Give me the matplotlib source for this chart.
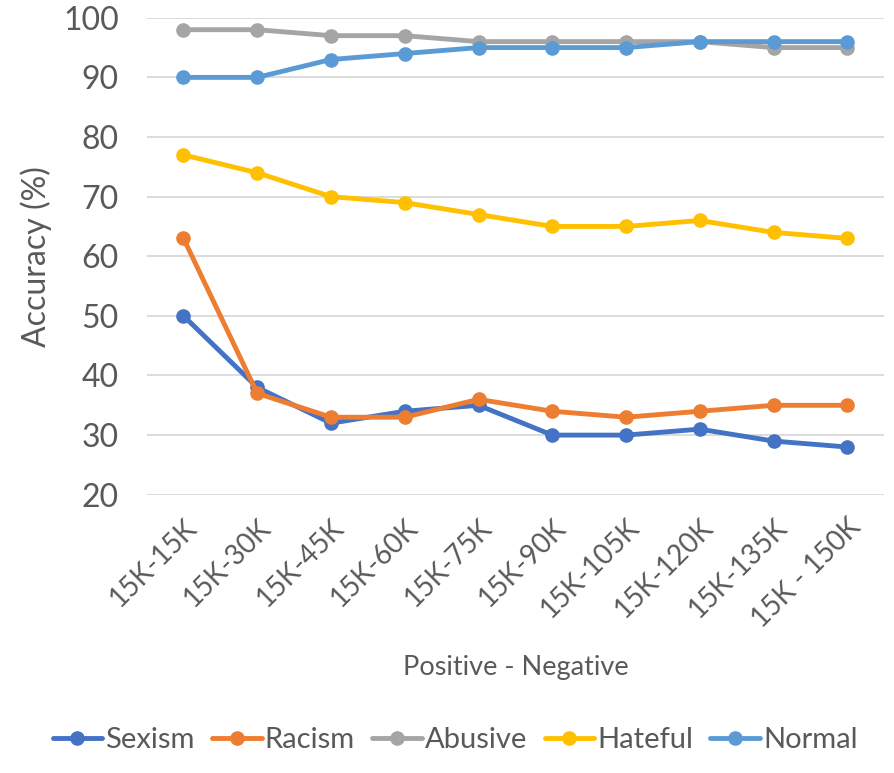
import matplotlib.pyplot as plt

plt.rcParams["font.family"] = ["Lato", "DejaVu Sans"]

# data
categories = ["15K-15K", "15K-30K", "15K-45K", "15K-60K", "15K-75K",
              "15K-90K", "15K-105K", "15K-120K", "15K-135K", "15K - 150K"]
sexism = [50, 38, 32, 34, 35, 30, 30, 31, 29, 28]
racism = [63, 37, 33, 33, 36, 34, 33, 34, 35, 35]
abusive = [98, 98, 97, 97, 96, 96, 96, 96, 95, 95]
hateful = [77, 74, 70, 69, 67, 65, 65, 66, 64, 63]
normal = [90, 90, 93, 94, 95, 95, 95, 96, 96, 96]

series = [
    ("Sexism", sexism, "#4472C4"),
    ("Racism", racism, "#ED7D31"),
    ("Abusive", abusive, "#A5A5A5"),
    ("Hateful", hateful, "#FFC000"),
    ("Normal", normal, "#5B9BD5"),
]

text_color = "#595959"

fig = plt.figure(figsize=(8.94, 7.73), dpi=100)
ax = fig.add_axes([0.164, 0.360, 0.825, 0.617])

x = list(range(len(categories)))
for name, vals, color in series:
    ax.plot(x, vals, color=color, linewidth=3.5, marker="o",
            markersize=9.5, label=name, solid_capstyle="round")

ax.set_ylim(20, 100)
ax.set_yticks(range(20, 101, 10))
ax.set_xlim(-0.5, len(categories) - 0.5)
ax.set_xticks(x)
ax.set_xticklabels(categories, rotation=45, ha="right", rotation_mode="anchor")

ax.grid(axis="y", color="#D9D9D9", linewidth=1.3)
ax.set_axisbelow(True)
for s in ax.spines.values():
    s.set_visible(False)
ax.tick_params(length=0, colors=text_color)
ax.tick_params(axis="y", labelsize=23, pad=20)
ax.tick_params(axis="x", labelsize=20, pad=14)

ax.set_ylabel("Accuracy (%)", fontsize=23, color=text_color, labelpad=8)
ax.set_xlabel("Positive - Negative", fontsize=19.5, color=text_color, labelpad=16)

fig.legend(loc="center", bbox_to_anchor=(0.509, 0.043), ncol=5, frameon=False,
           fontsize=21, labelcolor=text_color, handlelength=1.7,
           handletextpad=0.1, columnspacing=0.6)

fig.savefig("out.png", dpi=100)
